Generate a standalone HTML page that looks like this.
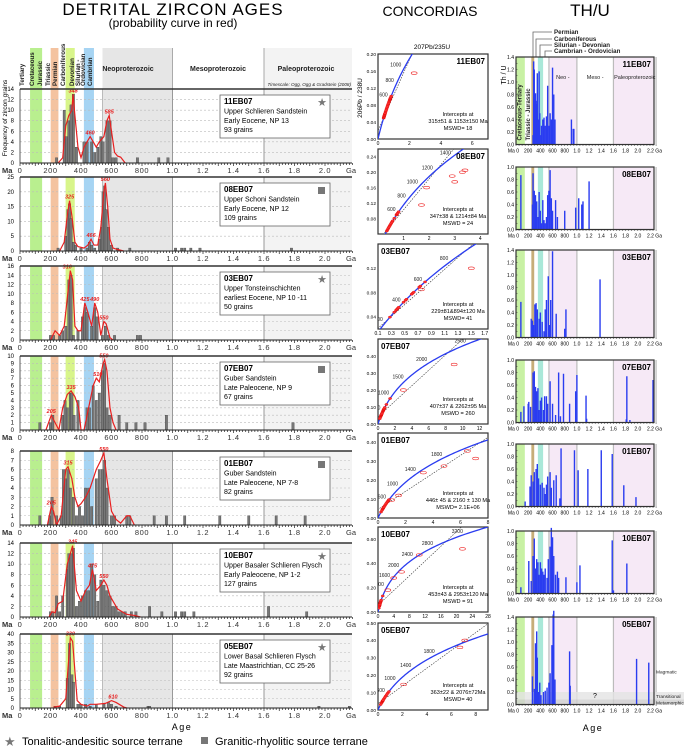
<!DOCTYPE html>
<html><head><meta charset="utf-8"><title>Detrital zircon ages</title>
<style>
html,body{margin:0;padding:0;background:#fff;}
svg{display:block;font-family:"Liberation Sans",sans-serif;}
</style></head>
<body>
<svg id="fig" width="685" height="748" viewBox="0 0 685 748" xmlns="http://www.w3.org/2000/svg">
<text x="173" y="15" font-size="17" text-anchor="middle" letter-spacing="1">DETRITAL  ZIRCON  AGES</text>
<text x="173" y="27" font-size="12" text-anchor="middle">(probability curve in red)</text>
<text x="430" y="16" font-size="14" text-anchor="middle">CONCORDIAS</text>
<text x="590" y="16" font-size="17" text-anchor="middle">TH/U</text>
<text x="182" y="730" font-size="9" text-anchor="middle" letter-spacing="1.5">Age</text>
<text x="593" y="731" font-size="9" text-anchor="middle" letter-spacing="1.5">Age</text>
<text transform="translate(7,118) rotate(-90)" font-size="6.5" text-anchor="middle">Frequency of zircon grains</text>
<text x="432" y="49" font-size="6.5" text-anchor="middle">207Pb/235U</text>
<text transform="translate(362,98) rotate(-90)" font-size="6.5" text-anchor="middle">206Pb / 238U</text>
<text transform="translate(506,75) rotate(-90)" font-size="7" text-anchor="middle">Th / U</text>
<g>
<text x="4" y="746" font-size="13" fill="#777">★</text>
<text x="22" y="745" font-size="11">Tonalitic-andesitic source terrane</text>
<rect x="201" y="737" width="7" height="7" fill="#777"/>
<text x="215" y="745" font-size="11">Granitic-rhyolitic source terrane</text>
</g>
</svg>
<script>
// ---------------- DATA ----------------
const sampleNames=['11EB07','08EB07','03EB07','07EB07','01EB07','10EB07','05EB07'];
const sampleFormation=['Upper Schlieren Sandstein','Upper Schoni Sandstein','Upper Tonsteinschichten','Guber Sandstein','Guber Sandstein','Upper Basaler Schlieren Flysch','Lower Basal Schlieren Flysch'];
const sampleAge=['Early Eocene, NP 13','Early Eocene, NP 12','earliest Eocene, NP 10 -11','Late Paleocene, NP 9','Late Paleocene, NP 7-8','Early Paleocene, NP 1-2','Late Maastrichtian, CC 25-26'];
const sampleGrains=['93 grains','109 grains','50 grains','67 grains','82 grains','127 grains','92 grains'];
const sampleIcon=['star','square','star','square','square','star','star'];
const freqMax=[14,25,16,10,8,14,40];
const freqStep=[2,5,2,1,1,2,5];
const xTickLabels=['0','200','400','600','800','1.0','1.2','1.4','1.6','1.8','2.0'];
const xTickAges=[0,200,400,600,800,1000,1200,1400,1600,1800,2000];

const bars11=[[240,1],[290,10],[305,5],[320,8],[335,11],[350,13],[370,3],[420,4],[440,4],[470,4],[490,2],[510,3],[530,5],[545,4],[570,8],[590,8],[610,1],[630,1],[770,1],[910,1],[970,1]];
const bars08=[[250,1],[300,5],[315,14],[325,16],[335,11],[350,3],[365,2],[400,1],[440,1],[455,3],[470,2],[490,1],[520,4],[535,8],[545,20],[555,22],[565,14],[580,8],[600,2],[640,1],[720,1],[1020,1],[1060,1],[1080,1],[1120,1],[1180,1],[1780,1]];
const bars03=[[200,1],[220,1],[260,1],[280,2],[300,3],[320,13],[335,14],[350,1],[380,2],[410,5],[425,7],[440,6],[470,3],[490,7],[505,5],[540,1],[560,3],[580,1],[620,1],[770,1],[790,1]];
const bars07=[[130,1],[200,1],[215,2],[280,2],[295,4],[310,3],[330,5],[340,5],[355,2],[380,4],[440,3],[455,3],[480,6],[500,4],[520,5],[540,8],[555,9],[570,3],[590,2],[650,2],[700,1],[760,1],[820,1],[960,2],[1790,1]];
const bars01=[[130,1],[195,1],[210,3],[240,1],[270,1],[285,6],[300,5],[315,6],[330,4],[350,3],[370,1],[390,2],[410,1],[430,4],[450,4],[470,2],[500,5],[520,6],[540,6],[555,7],[570,4],[600,1],[620,1],[700,1],[720,1],[880,1],[960,1],[1080,1],[1310,1],[1500,1],[1680,1],[1870,1]];
const bars10=[[200,1],[215,1],[240,4],[260,1],[280,4],[310,9],[320,12],[335,12],[350,13],[370,2],[390,3],[410,4],[430,5],[450,5],[470,10],[490,8],[510,3],[530,7],[550,6],[570,5],[590,4],[610,2],[630,2],[650,1],[670,1],[690,1],[730,1],[760,1],[850,2],[930,1],[1020,1],[1060,1],[1080,1],[1140,1],[1630,2],[1880,1]];
const bars05=[[230,1],[260,1],[310,16],[325,35],[340,18],[350,14],[380,2],[400,2],[430,2],[460,1],[500,2],[550,2],[580,3],[600,2],[630,1],[840,1],[850,1],[1960,1],[2160,1]];
const freqBars=[bars11,bars08,bars03,bars07,bars01,bars10,bars05];

const curve11=[[250,0],[280,1],[300,7],[320,9],[340,10],[348,13],[360,9],[380,3],[400,1],[420,3],[440,4],[460,5],[480,4],[500,3],[520,4],[550,5],[570,8],[585,9],[600,6],[620,2],[640,1.3],[660,1.1],[690,0]];
const curve08=[[260,0],[290,3],[310,12],[325,17],[340,12],[360,3],[380,1.5],[420,1],[445,2],[466,4],[485,2],[510,2],[530,8],[550,20],[560,23],[575,15],[590,4],[610,1],[640,0.5],[680,0]];
const curve03=[[200,0],[230,2],[260,1],[290,3],[320,12],[330,15],[345,13],[360,3],[380,2],[400,2],[425,8],[445,6],[470,3],[490,8],[510,6],[530,1],[550,4],[565,3.5],[590,0.5],[610,0]];
const curve07=[[170,0],[205,2],[230,1],[255,0],[280,3],[310,4.8],[335,5.3],[360,4.5],[385,3],[400,0],[420,0],[450,3],[480,6],[500,7],[520,6.5],[545,9],[555,9.5],[570,8],[590,3],[610,1],[630,0]];
const curve01=[[180,0],[205,2],[220,1.5],[240,0],[270,1],[300,6],[315,6.3],[340,5],[360,3],[380,2],[400,2.3],[430,3],[460,4],[500,6],[530,7],[550,7.8],[570,5],[600,1.5],[630,0.6],[660,0.2],[700,1],[720,1],[750,0]];
const curve10=[[190,0],[210,1],[230,0.8],[250,2.5],[280,3],[310,10],[330,12],[345,13.5],[370,5],[400,3],[430,5],[455,6],[475,9],[500,5],[530,6],[550,7],[570,6],[590,4],[610,3],[640,1.5],[670,1],[700,0.5],[750,0.3],[790,0]];
const curve05=[[220,0.5],[260,1],[300,5],[330,38],[345,36],[360,20],[375,4],[400,2],[440,1],[460,2],[500,2],[560,2.5],[600,4],[630,3],[680,0.5],[700,0]];
const freqCurves=[curve11,curve08,curve03,curve07,curve01,curve10,curve05];

const peaks11=[[348,13],[460,5],[585,9]];
const peaks08=[[325,17],[466,4],[560,23]];
const peaks03=[[310,15],[425,8],[490,8],[550,4]];
const peaks07=[[205,2],[335,5.3],[510,7],[550,9.5]];
const peaks01=[[205,2],[315,6.3],[550,7.8]];
const peaks10=[[345,13.5],[475,9],[550,7]];
const peaks05=[[330,38],[610,4]];
const peakSets=[peaks11,peaks08,peaks03,peaks07,peaks01,peaks10,peaks05];

// concordia
const concXRange=[[0,7],[0,4.3],[0.1,1.75],[0,13],[0,8],[0,28],[0,9]];
const concYRange=[[0,0.2],[0.04,0.26],[0.02,0.16],[0,0.5],[0,0.45],[0,0.7],[0,0.5]];
const concXTicks=[[0,2,4,6],[1,2,3,4],[0.1,0.3,0.5,0.7,0.9,1.1,1.3,1.5,1.7],[0,2,4,6,8,10,12],[0,2,4,6,8],[0,4,8,12,16,20,24,28],[0,2,4,6,8]];
const concYTicks=[[0,0.04,0.08,0.12,0.16,0.2],[0.08,0.12,0.16,0.2,0.24],[0.04,0.08,0.12],[0,0.1,0.2,0.3,0.4],[0,0.1,0.2,0.3,0.4],[0,0.2,0.4,0.6],[0,0.1,0.2,0.3,0.4,0.5]];
const concAgeLabels=[[600,800,1000],[600,800,1000,1200,1400],[200,400,600,800],[500,1000,1500,2000,2500],[200,600,1000,1400,1800,2200],[1200,1600,2000,2400,2800,3200],[200,600,1000,1400,1800]];
const concDisc=[[315,1153],[347,1214],[229,894],[407,2262],[446,2160],[453,2953],[363,2076]];
const concIntercept=['315±51 & 1153±150 Ma','347±38 & 1214±84 Ma','229±81&894±120 Ma','407±37 & 2262±95 Ma','446± 45 & 2160 ± 130 Ma','453±43 & 2953±120 Ma','363±22 & 2076±72Ma'];
const concMswd=['MSWD= 18','MSWD = 24','MSWD= 41','MSWD = 260','MSWD= 2.1E+06','MSWD = 91','MSWD= 40'];
const concAges11=[310,320,330,340,350,360,370,380,400,420,440,460,480,500,520,540,560,570,580,590,600,620];
const concAges08=[300,320,340,360,380,400,420,440,460,500,550,560,570,580,600];
const concAges03=[250,300,320,330,340,350,400,420,430,480,490,500,550,560,600];
const concAges07=[200,260,300,320,340,360,400,450,480,500,520,540,560,600,700,900];
const concAges01=[200,260,300,320,340,360,400,440,480,520,550,580,600];
const concAges10=[200,300,340,360,400,460,480,520,560,600,800];
const concAges05=[200,260,300,320,330,340,350,400,450,500,550,600,650];
const concAgeSets=[concAges11,concAges08,concAges03,concAges07,concAges01,concAges10,concAges05];
const concOut11=[[2.3,0.155]];
const concOut08=[[1.7,0.115],[2.9,0.19],[3.3,0.2],[3.0,0.175],[1.9,0.16],[3.4,0.205]];
const concOut03=[[1.5,0.12],[0.75,0.085]];
const concOut07=[[9,0.35],[3,0.2]];
const concOut01=[[3.3,0.24],[4.8,0.275],[7.1,0.315],[6.5,0.355],[1.5,0.12],[1,0.095]];
const concOut10=[[21.5,0.52],[10.5,0.47],[4,0.28],[6,0.33],[2.5,0.18]];
const concOut05=[[2.1,0.147],[6.7,0.36],[7.1,0.4]];
const concOutSets=[concOut11,concOut08,concOut03,concOut07,concOut01,concOut10,concOut05];

// Th/U
const thuMax=[1.4,1.0,1.4,1.0,1.0,1.0,1.4];
const thu11=[[280,.15],[290,1.33],[300,1.2],[310,.8],[320,.82],[330,.7],[340,.65],[350,1.14],[360,.4],[380,1.17],[390,.5],[410,.15],[420,.3],[440,.4],[460,.43],[480,.3],[500,.45],[520,.94],[540,.3],[560,.5],[580,.4],[600,1.23],[620,.8],[640,.4],[910,.4],[940,.25],[950,.25]];
const thu08=[[80,.87],[270,.4],[280,.9],[300,.62],[320,.55],[340,.45],[360,.2],[380,.6],[400,.3],[420,.1],[440,.47],[460,.15],[480,.1],[500,.2],[520,.55],[540,.62],[560,.95],[580,.5],[600,.3],[650,.47],[680,.2],[800,.3],[980,.35],[1030,.5],[1080,.4],[1100,.45],[1200,.77]];
const thu03=[[80,.57],[250,.3],[270,.27],[290,.2],[310,.53],[330,.55],[350,.45],[380,.3],[400,.4],[430,.25],[460,.1],[480,.45],[500,.6],[530,.98],[550,.2],[570,.6],[600,1.38],[660,.38],[800,.14],[820,.45],[1380,.93]];
const thu07=[[80,.17],[130,.26],[200,.3],[210,.33],[240,.25],[280,.8],[300,.82],[320,.57],[340,.5],[360,.55],[380,.2],[400,.35],[420,.4],[450,.2],[470,.42],[500,.42],[520,.3],[560,.66],[600,.3],[650,.12],[700,.8],[730,.1],[780,.78],[880,.3],[980,.5],[1000,.76],[1150,.43],[1160,.06],[1810,.05],[1820,.74],[1870,.04],[2250,.68]];
const thu01=[[150,.08],[230,.32],[250,.5],[280,.4],[300,.55],[330,.6],[350,.68],[370,.45],[400,.35],[430,.38],[460,.3],[480,.2],[500,.35],[520,.48],[560,.55],[580,.3],[620,.42],[660,.5],[720,.13],[740,.93],[960,.9],[1020,.58],[1180,.6],[1400,.9],[1580,.84],[1770,.34],[1970,.15]];
const thu10=[[80,.1],[210,.52],[250,.2],[280,.6],[300,.88],[320,.4],[340,.55],[360,.5],[380,.3],[400,.5],[420,.4],[440,.35],[460,.3],[480,.4],[510,.25],[530,.55],[560,.75],[580,1.05],[600,.9],[620,.6],[650,.3],[680,.35],[700,.25],[820,.26],[1000,.18],[1050,.45],[1580,.85],[1600,.05],[1820,.48]];
const thu05=[[270,.45],[300,.25],[320,.98],[340,1.17],[350,.75],[370,.2],[390,.35],[410,.15],[450,.2],[480,.22],[510,.27],[540,.35],[560,.5],[590,.95],[610,1.44],[620,1.5],[640,.4],[880,.85],[890,.3],[1980,.73],[2180,.67]];
const thuSets=[thu11,thu08,thu03,thu07,thu01,thu10,thu05];

// ---------------- RENDER ----------------
const NS='http://www.w3.org/2000/svg';
const svg=document.getElementById('fig');
function mk(tag,attrs,parent){const e=document.createElementNS(NS,tag);for(const k in attrs)e.setAttribute(k,attrs[k]);(parent||svg).appendChild(e);return e;}
function tx(x,y,s,attrs,parent){const e=mk('text',Object.assign({x:x,y:y},attrs||{}),parent);e.textContent=s;return e;}

// ===== Left: detrital zircon =====
const LX0=20,LX1=352,LK=0.1525;
function lx(a){return LX0+a*LK;}
const detTops=[89,177,266,356,451,543,634];
const PH=74;
const bandDefs=[[66,145,'#b9ef8f'],[201,252,'#f4c3a0'],[299,359,'#d8f58a'],[419,485,'#a6d4f3'],[541,1000,'#e6e6e6'],[1600,2300,'#f3f3f3']];

// header
const hdr=mk('g',{});


bandDefs.forEach(b=>{
  const r=mk('rect',{x:lx(b[0]),y:48,width:Math.min(lx(b[1]),LX1)-lx(b[0]),height:41,fill:b[2]},hdr);
  
  
});
[[1000],[1600]].forEach(v=>{
  const l=mk('line',{x1:lx(v[0]),x2:lx(v[0]),y1:48,y2:89,stroke:'#aaa','stroke-width':1},hdr);
  
  
});
const periodLbl=[[33,'Tertiary'],[43,'Cretaceous'],[51,'Jurassic'],[59,'Triassic'],[66,'Permian'],[74,'Carboniferous'],[83,'Devonian'],[89,'Silurian -'],[94,'Ordovician'],[101,'Cambrian']];
periodLbl.forEach(p=>{
  const t=tx(0,0,p[1],{transform:'translate('+(p[0]-9)+',86) rotate(-90)','font-size':6.2,'font-weight':'bold',fill:'#222'},hdr);
  
  
});
[[128,'Neoproterozoic'],[218,'Mesoproterozoic'],[306,'Paleoproterozoic']].forEach(p=>{
  const t=tx(p[0],71,p[1],{'font-size':7,'font-weight':'bold','text-anchor':'middle',fill:'#222'},hdr);
  
  
});
const ts=tx(351,86,'Timescale: Ogg, Ogg & Gradstein (2008)',{'font-size':4.6,'font-style':'italic','text-anchor':'end',fill:'#222'},hdr);



for(let i=0;i<7;i++){
  const top=detTops[i], base=top+PH, ymax=freqMax[i];
  const ys=v=>base-v/ymax*PH;
  const g=mk('g',{});
  
  
  bandDefs.forEach(b=>{
    const r=mk('rect',{x:lx(b[0]),y:top,width:Math.min(lx(b[1]),LX1)-lx(b[0]),height:PH,fill:b[2]},g);
    
    
  });
  for(let v=freqStep[i];v<ymax;v+=freqStep[i]){
    const l=mk('line',{x1:LX0,x2:LX1,y1:ys(v),y2:ys(v),stroke:'#bbb','stroke-width':0.6,'stroke-dasharray':'2,2'},g);
    
    
  }
  [541,1000,1600].forEach(v=>{
    const l=mk('line',{x1:lx(v),x2:lx(v),y1:top,y2:base,stroke:v==541?'#bbb':'#999','stroke-width':1},g);
    
    
  });
  freqBars[i].forEach(b=>{
    const r=mk('rect',{x:lx(b[0])-1.2,y:ys(b[1]),width:2.4,height:base-ys(b[1]),fill:'#777',stroke:'#333','stroke-width':0.3},g);
    
    
  });
  const pc=mk('polyline',{points:freqCurves[i].map(p=>lx(p[0])+','+ys(p[1])).join(' '),fill:'none',stroke:'#e82020','stroke-width':1.2},g);
  
  
  peakSets[i].forEach(p=>{
    const t=tx(lx(p[0]),ys(p[1])-2,String(p[0]),{'font-size':5.5,'font-style':'italic','font-weight':'bold',fill:'#e82020','text-anchor':'middle'},g);
    
    
  });
  // axes
  const tl=mk('line',{x1:LX0,x2:LX1,y1:top,y2:top,stroke:'#333','stroke-width':1.5},g);
  
  
  const bl=mk('line',{x1:LX0,x2:LX1,y1:base,y2:base,stroke:'#222','stroke-width':1},g);
  
  
  const ll=mk('line',{x1:LX0,x2:LX0,y1:top,y2:base,stroke:'#333','stroke-width':0.8},g);
  
  
  let tk='';
  for(let a=0;a<=2180;a+=20){const h=(a%100==0)?3:2;tk+='M'+lx(a)+','+base+'v'+h;}
  const tp=mk('path',{d:tk,stroke:'#222','stroke-width':0.7},g);
  
  
  for(let v=0;v<=ymax;v+=freqStep[i]){
    const t=tx(14,ys(v)+2,String(v),{'font-size':6,'text-anchor':'end'},g);
    
    
  }
  const ma=tx(2,base+10,'Ma',{'font-size':7.5,'font-weight':'bold',fill:'#333'},g);
  
  
  xTickAges.forEach((a,k)=>{
    const t=tx(lx(a),base+10,xTickLabels[k],{'font-size':7.5,'text-anchor':'middle',fill:'#333','letter-spacing':0.6},g);
    
    
  });
  const ga=tx(346,base+10,'Ga',{'font-size':7.5,fill:'#333'},g);
  
  
  // info box
  const bx=mk('g',{},g);
  
  
  const r=mk('rect',{x:220,y:top+6,width:110,height:43,fill:'#fff',stroke:'#666','stroke-width':0.8},bx);
  
  
  const t1=tx(224,top+15,sampleNames[i],{'font-size':8,'font-weight':'bold'},bx);
  
  
  const t2=tx(224,top+24.5,sampleFormation[i],{'font-size':7},bx);
  
  
  const t3=tx(224,top+34,sampleAge[i],{'font-size':7},bx);
  
  
  const t4=tx(224,top+43,sampleGrains[i],{'font-size':7},bx);
  
  
  if(sampleIcon[i]=='star'){
    const s=tx(322,top+17,'★',{'font-size':11,fill:'#777','text-anchor':'middle'},bx);
    
    
  } else {
    const s=mk('rect',{x:318,y:top+10,width:7,height:7,fill:'#777'},bx);
    
    
  }
}

// ===== Middle: concordias =====
const CX0=378,CX1=488;
const concTops=[54,149,244,339,433,527,623];
const L235=9.8485e-4,L238=1.55125e-4;
function cx(t){return Math.exp(L235*t)-1;}
function cy(t){return Math.exp(L238*t)-1;}
for(let i=0;i<7;i++){
  const top=concTops[i], h=(i==6)?87:85, bot=top+h;
  const xr=concXRange[i], yr=concYRange[i];
  const X=v=>CX0+(v-xr[0])/(xr[1]-xr[0])*(CX1-CX0);
  const Y=v=>bot-(v-yr[0])/(yr[1]-yr[0])*h;
  const g=mk('g',{});
  
  
  const cp=mk('clipPath',{id:'cc'+i},g);
  mk('rect',{x:CX0,y:top,width:CX1-CX0,height:h},cp);
  const fr=mk('rect',{x:CX0,y:top,width:CX1-CX0,height:h,fill:'#fff',stroke:'#333','stroke-width':1.2},g);
  
  
  const inner=mk('g',{'clip-path':'url(#cc'+i+')'},g);
  // discordia
  const d=concDisc[i];
  const dx1=cx(d[0]),dy1=cy(d[0]),dx2=cx(d[1]),dy2=cy(d[1]);
  const ext=0.4;
  const dl=mk('line',{x1:X(dx1-(dx2-dx1)*ext),y1:Y(dy1-(dy2-dy1)*ext),x2:X(dx2+(dx2-dx1)*ext),y2:Y(dy2+(dy2-dy1)*ext),stroke:'#333','stroke-width':0.6,'stroke-dasharray':'1.5,1.2'},inner);
  
  
  let pts=[];
  for(let t=0;t<=4500;t+=20){pts.push(X(cx(t))+','+Y(cy(t)));}
  const cc=mk('polyline',{points:pts.join(' '),fill:'none',stroke:'#2a3cf0','stroke-width':1.3},inner);
  
  
  concAgeSets[i].forEach(t=>{
    const e=mk('ellipse',{cx:X(cx(t)),cy:Y(cy(t)),rx:1.6,ry:1.1,fill:'#f33',stroke:'#d00','stroke-width':0.4},inner);
    
    
  });
  concOutSets[i].forEach(p=>{
    const e=mk('ellipse',{cx:X(p[0]),cy:Y(p[1]),rx:3,ry:1.3,fill:'none',stroke:'#e22','stroke-width':0.6},inner);
    
    
  });
  concAgeLabels[i].forEach(t=>{
    const px=X(cx(t)),py=Y(cy(t));
    if(px<CX1-4 && py>top+4){
      const lb=tx(px-3,py-1,String(t),{'font-size':5,'text-anchor':'end',fill:'#222'},inner);
      
      
    }
  });
  concXTicks[i].forEach(v=>{
    const t=tx(X(v),bot+6,String(v),{'font-size':5,'text-anchor':'middle'},g);
    
    
  });
  concYTicks[i].forEach(v=>{
    const t=tx(CX0-2,Y(v)+1.8,v.toFixed(2),{'font-size':4.8,'text-anchor':'end'},g);
    
    
  });
  const nm=tx(CX1-3,top+10,sampleNames[i],{'font-size':8,'font-weight':'bold','text-anchor':i<=1?'end':'start'},g);
  if(i>1){nm.setAttribute('x',CX0+3);}
  
  
  const ly=bot-23;
  const a1=tx(458,ly,'Intercepts at',{'font-size':5.6,'text-anchor':'middle'},g);
  
  
  const a2=tx(458,ly+7,concIntercept[i],{'font-size':5.6,'text-anchor':'middle'},g);
  
  
  const a3=tx(458,ly+14,concMswd[i],{'font-size':5.6,'text-anchor':'middle'},g);
  
  
}

// ===== Right: Th/U =====
const TX0=516,TK=0.0609,TX1=654;
function tux(a){return TX0+a*TK;}
const thuTops=[57,167,250,360,444,531,617];
const thuBands=[[0,145,'#c8f1a4'],[252,299,'#c6ad78'],[359,445,'#a9e8d8'],[541,1000,'#f6e9f6'],[1600,2300,'#f6e9f6']];
// header brackets
const hb=mk('g',{});


[[533,34,'Permian'],[536,41,'Carboniferous'],[540,47,'Silurian - Devonian'],[545,53,'Cambrian - Ordovician']].forEach(p=>{
  const pa=mk('path',{d:'M'+p[0]+',57V'+(p[1]-2)+'H552',fill:'none',stroke:'#666','stroke-width':0.8},hb);
  
  
  const t=tx(554,p[1],p[2],{'font-size':6.2,'font-weight':'bold',fill:'#222'},hb);
  
  
});
for(let i=0;i<7;i++){
  const top=thuTops[i], m=thuMax[i], h=m*62.5, base=top+h;
  const Y=v=>base-v/m*h;
  const g=mk('g',{});
  
  
  thuBands.forEach(b=>{
    const r=mk('rect',{x:tux(b[0]),y:top,width:Math.min(tux(b[1]),TX1)-tux(b[0]),height:h,fill:b[2]},g);
    
    
  });
  [541,1000,1600,2300].forEach(v=>{
    const l=mk('line',{x1:tux(v),x2:tux(v),y1:top,y2:base,stroke:'#bbb','stroke-width':1.2},g);
    
    
  });
  if(i==6){
    const r1=mk('rect',{x:TX0,y:Y(0.2),width:TX1-TX0+30,height:Y(0.08)-Y(0.2),fill:'#e3e3e3',opacity:0.8},g);
    
    
    const r2=mk('rect',{x:TX0,y:Y(0.08),width:TX1-TX0+30,height:Y(0)-Y(0.08),fill:'#cfcfcf',opacity:0.8},g);
    
    
    const q=tx(593,Y(0.2)+6,'?',{'font-size':7},g);
    
    
    [[Y(0.5),'Magmatic'],[Y(0.12)+1,'Transitional'],[Y(0.02)+1,'Metamorphic']].forEach(p=>{
      const t=tx(656,p[0],p[1],{'font-size':4.8,fill:'#222'},g);
      
      
    });
  }
  thuSets[i].forEach(b=>{
    const r=mk('rect',{x:tux(b[0])-0.7,y:Y(b[1]),width:1.4,height:base-Y(b[1]),fill:'#2a3cf0'},g);
    
    
  });
  const fr=mk('rect',{x:TX0,y:top,width:TX1-TX0,height:h,fill:'none',stroke:'#333','stroke-width':1.2},g);
  
  
  let tk='';
  for(let a=0;a<=2300;a+=50){tk+='M'+tux(a)+','+base+'v1.5';}
  for(let v=0;v<=m+0.001;v+=0.1){tk+='M'+TX0+','+Y(v)+'h1.5';}
  const tp=mk('path',{d:tk,stroke:'#333','stroke-width':0.5},g);
  
  
  for(let v=0;v<=m+0.001;v+=0.2){
    const t=tx(TX0-2,Y(v)+1.8,v.toFixed(1),{'font-size':5,'text-anchor':'end'},g);
    
    
  }
  const xl=['Ma 0','200','400','600','800','1.0','1.2','1.4','1.6','1.8','2.0','2.2 Ga'];
  xl.forEach((s,k)=>{
    const t=tx(tux(k*200),base+8,s,{'font-size':5,'text-anchor':k==0?'end':(k==11?'start':'middle')},g);
    if(k==0){t.setAttribute('x',tux(0)+3);}
    if(k==11){t.setAttribute('x',tux(2200)-3);}
    
    
  });
  const nm=tx(TX1-3,top+10,sampleNames[i],{'font-size':8,'font-weight':'bold','text-anchor':'end'},g);
  
  
  if(i==0){
    [[tux(60)+2,'Cretaceous-Tertiary'],[tux(200)+2,'Triassic - Jurassic']].forEach(p=>{
      const t=tx(0,0,p[1],{transform:'translate('+p[0]+','+(base-4)+') rotate(-90)','font-size':6,'font-weight':'bold',fill:'#222'},g);
      
      
    });
    [[tux(770),'Neo -'],[tux(1300),'Meso -'],[tux(1950),'Paleoproterozoic']].forEach(p=>{
      const t=tx(p[0],top+22,p[1],{'font-size':5.5,'text-anchor':'middle',fill:'#222'},g);
      
      
    });
  }
}
</script>
</body></html>
